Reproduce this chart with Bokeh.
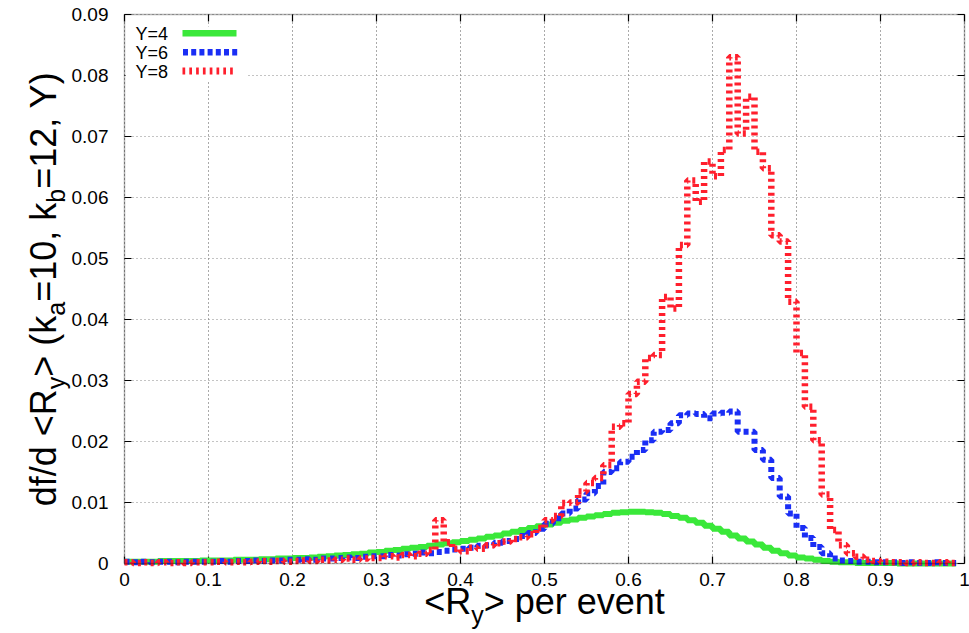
import math
import numpy as np
from bokeh.plotting import figure
from bokeh.models import Range1d, FixedTicker, Label, BoxAnnotation, Grid
from bokeh.core.properties import value
from bokeh.embed import file_html
from bokeh.resources import INLINE

# ---------------- data (histograms, bin width 0.01, left edges 0.00 .. 0.99) -------------
bin_left = np.round(np.arange(100) * 0.01, 2)

y4 = [0.0003, 0.0003, 0.0003, 0.0003, 0.0004, 0.0004, 0.0004, 0.0004, 0.0004, 0.0005,
      0.0005, 0.0005, 0.0005, 0.0006, 0.0006, 0.0006, 0.0007, 0.0007, 0.0008, 0.0008,
      0.0009, 0.0009, 0.0010, 0.0011, 0.0012, 0.0013, 0.0014, 0.0015, 0.0016, 0.0018,
      0.0019, 0.0021, 0.0022, 0.0024, 0.0026, 0.0027, 0.0029, 0.0031, 0.0033, 0.0035,
      0.0037, 0.0039, 0.0041, 0.0044, 0.0046, 0.0049, 0.0052, 0.0055, 0.0058, 0.0061,
      0.0064, 0.0067, 0.0070, 0.0072, 0.0075, 0.0077, 0.0079, 0.0081, 0.0083, 0.0084,
      0.0085, 0.0085, 0.0084, 0.0083, 0.0081, 0.0078, 0.0075, 0.0071, 0.0067, 0.0062,
      0.0057, 0.0052, 0.0046, 0.0041, 0.0036, 0.0031, 0.0026, 0.0021, 0.0017, 0.0013,
      0.0010, 0.0008, 0.0006, 0.0004, 0.0003, 0.0002, 0.0002, 0.0001, 0.0001, 0.0001,
      0.0001, 0.0001, 0.0000, 0.0000, 0.0000, 0.0000, 0.0000, 0.0000, 0.0000, 0.0000]

y6 = [0.0003, 0.0002, 0.0003, 0.0002, 0.0003, 0.0003, 0.0002, 0.0003, 0.0003, 0.0003,
      0.0003, 0.0004, 0.0003, 0.0004, 0.0004, 0.0005, 0.0004, 0.0005, 0.0005, 0.0006,
      0.0006, 0.0007, 0.0006, 0.0008, 0.0008, 0.0009, 0.0010, 0.0009, 0.0011, 0.0012,
      0.0012, 0.0014, 0.0013, 0.0015, 0.0016, 0.0018, 0.0017, 0.0019, 0.0021, 0.0023,
      0.0024, 0.0026, 0.0029, 0.0030, 0.0034, 0.0037, 0.0040, 0.0045, 0.0050, 0.0057,
      0.0065, 0.0074, 0.0082, 0.0090, 0.0105, 0.0115, 0.0127, 0.0150, 0.0156, 0.0167,
      0.0175, 0.0186, 0.0202, 0.0216, 0.0219, 0.0230, 0.0243, 0.0246, 0.0245, 0.0238,
      0.0246, 0.0247, 0.0249, 0.0216, 0.0216, 0.0186, 0.0170, 0.0140, 0.0110, 0.0082,
      0.0058, 0.0042, 0.0027, 0.0017, 0.0008, 0.0005, 0.0004, 0.0003, 0.0003, 0.0002,
      0.0002, 0.0002, 0.0001, 0.0002, 0.0001, 0.0001, 0.0002, 0.0001, 0.0001, 0.0001]

y8 = [0.0002, 0.0001, 0.0002, 0.0001, 0.0002, 0.0001, 0.0002, 0.0001, 0.0002, 0.0002,
      0.0002, 0.0003, 0.0002, 0.0003, 0.0002, 0.0003, 0.0004, 0.0003, 0.0004, 0.0003,
      0.0004, 0.0005, 0.0004, 0.0006, 0.0005, 0.0006, 0.0008, 0.0006, 0.0008, 0.0009,
      0.0009, 0.0012, 0.0010, 0.0014, 0.0012, 0.0016, 0.0022, 0.0071, 0.0035, 0.0024,
      0.0020, 0.0026, 0.0024, 0.0030, 0.0033, 0.0036, 0.0040, 0.0043, 0.0048, 0.0058,
      0.0071, 0.0078, 0.0099, 0.0100, 0.0118, 0.0132, 0.0140, 0.0161, 0.0224, 0.0230,
      0.0278, 0.0298, 0.0337, 0.0342, 0.0437, 0.0418, 0.0522, 0.0628, 0.0593, 0.0659,
      0.0635, 0.0678, 0.0830, 0.0705, 0.0765, 0.0675, 0.0648, 0.0538, 0.0528, 0.0429,
      0.0345, 0.0257, 0.0202, 0.0113, 0.0055, 0.0030, 0.0017, 0.0011, 0.0006, 0.0004,
      0.0003, 0.0002, 0.0002, 0.0001, 0.0002, 0.0001, 0.0001, 0.0002, 0.0001, 0.0001]

series_names = ["Y=4", "Y=6", "Y=8"]

x_ticks = [0.0, 0.1, 0.2, 0.3, 0.4, 0.5, 0.6, 0.7, 0.8, 0.9, 1.0]
x_tick_labels = ["0", "0.1", "0.2", "0.3", "0.4", "0.5", "0.6", "0.7", "0.8", "0.9", "1"]
y_ticks = [0.0, 0.01, 0.02, 0.03, 0.04, 0.05, 0.06, 0.07, 0.08, 0.09]
y_tick_labels = ["0", "0.01", "0.02", "0.03", "0.04", "0.05", "0.06", "0.07", "0.08", "0.09"]

# ---------------- styling / layout constants ----------------
FONT = "Liberation Sans"
GREEN = "#3ae83a"
BLUE = "#1a2ef5"
RED = "#ff1f2d"

W, H = 969, 633
FL, FT, FR, FBOT = 124, 14, 964, 563     # plot box edges in page pixels
BOX_W = FR - FL                          # 840
BOX_H = FBOT - FT                        # 549
XMIN, XMAX, YMIN, YMAX = 0.0, 1.0, 0.0, 0.09
TICK = 7
sx = (XMAX - XMIN) / BOX_W               # data per pixel
sy = (YMAX - YMIN) / BOX_H

# the figure's frame covers the whole page so that titles are never clipped;
# the data box sits inside it where the reference has it
p = figure(width=W, height=H, title=None,
           x_range=Range1d(XMIN - FL * sx, XMAX + (W - FR) * sx),
           y_range=Range1d(YMIN - (H - FBOT) * sy, YMAX + FT * sy),
           x_axis_type=None, y_axis_type=None,
           output_backend="svg", toolbar_location=None,
           min_border=0, min_border_left=0, min_border_right=0,
           min_border_top=0, min_border_bottom=0,
           background_fill_color="white", border_fill_color="white")
p.outline_line_color = None

xt = FixedTicker(ticks=x_ticks)
yt = FixedTicker(ticks=y_ticks)

# dotted grid inside the box
p.add_layout(Grid(dimension=0, ticker=xt, cross_bounds=(YMIN, YMAX),
                  grid_line_color="#555555", grid_line_dash="1 3", grid_line_width=1))
p.add_layout(Grid(dimension=1, ticker=yt, cross_bounds=(XMIN, XMAX),
                  grid_line_color="#888888", grid_line_dash="1 3", grid_line_width=1))

# inward ticks on all four edges (short bounded grid lines)
dy, dx = TICK * sy, TICK * sx
for dim, tk, cb in ((0, xt, (YMIN, YMIN + dy)), (0, xt, (YMAX - dy, YMAX)),
                    (1, yt, (XMIN, XMIN + dx)), (1, yt, (XMAX - dx, XMAX))):
    p.add_layout(Grid(dimension=dim, ticker=tk, cross_bounds=cb,
                      grid_line_color="black", grid_line_width=1.2))


def scr(l, r, top, bot, **kw):
    """BoxAnnotation from page-pixel edges (frame == page)."""
    return BoxAnnotation(left=l, right=r, top=H - top, bottom=H - bot,
                         left_units="screen", right_units="screen",
                         bottom_units="screen", top_units="screen", **kw)


# white area behind the key (hides grid lines)
p.add_layout(scr(FL + 1, 247, 26, 80, fill_color="white", fill_alpha=1, line_color=None,
                 level="underlay"))

# ---------------- histograms ----------------
p.step(bin_left, y4, mode="after", line_color=GREEN, line_width=6)
p.step(bin_left, y6, mode="after", line_color=BLUE, line_width=6, line_dash="5 4")
p.step(bin_left, y8, mode="after", line_color=RED, line_width=6.5, line_dash="3 4")

# plot border on top of the curves
p.add_layout(BoxAnnotation(left=XMIN, right=XMAX, bottom=YMIN, top=YMAX,
                           fill_alpha=0, line_color="black", line_width=1.5))

# ---------------- tick labels ----------------
p.text(x=[XMIN] * len(y_ticks), y=y_ticks, text=y_tick_labels, x_offset=-16,
       text_font=value(FONT), text_font_size="19px", text_color="black",
       text_align="right", text_baseline="middle")
p.text(x=x_ticks, y=[YMIN] * len(x_ticks), text=x_tick_labels, y_offset=16,
       text_font=value(FONT), text_font_size="19px", text_color="black",
       text_align="center", text_baseline="middle")

# ---------------- key (text left, line sample right, as in gnuplot) ----------------
p.add_layout(scr(182, 236, 29.5, 36, fill_color=GREEN, fill_alpha=1, line_color=None))
for i in range(7):
    x0 = 182.5 + i * 8.2
    p.add_layout(scr(x0, x0 + 5, 48.5, 55, fill_color=BLUE, fill_alpha=1, line_color=None))
for i in range(8):
    x0 = 182 + i * 6.8
    p.add_layout(scr(x0, x0 + 2.7, 67, 74, fill_color=RED, fill_alpha=1, line_color=None))

for name, cy in zip(series_names, (33, 52, 71)):
    p.add_layout(Label(x=135, y=H - cy, x_units="screen", y_units="screen", text=name,
                       text_font=FONT, text_font_size="18px", text_color="black",
                       text_baseline="middle", text_align="left"))

# ---------------- axis titles with subscripts ----------------
AW = {'d': .556, 'f': .278, '/': .278, ' ': .278, '<': .584, 'R': .722, '>': .584,
      '(': .333, 'k': .5, '=': .584, '1': .556, '0': .556, ',': .278, '2': .556,
      'Y': .667, ')': .333, 'p': .556, 'e': .556, 'r': .333, 'v': .5, 'n': .556,
      't': .278, 'y': .5, 'a': .556, 'b': .556}


def tw(s, size):
    return sum(AW[c] for c in s) * size


S_BIG, S_SUB = 36, 25

# x title: "<R_y> per event"
xpieces = [("<R", False), ("y", True), ("> per event", False)]
total = sum(tw(t, S_SUB if s else S_BIG) for t, s in xpieces)
cx = FL + BOX_W / 2 - total / 2
for t, s in xpieces:
    size = S_SUB if s else S_BIG
    mid = 614 if s else 601          # page y of text middle
    p.add_layout(Label(x=cx, y=H - mid, x_units="screen", y_units="screen", text=t,
                       text_font=FONT, text_font_size=f"{size}px", text_color="black",
                       text_baseline="middle", text_align="left"))
    cx += tw(t, size)

# y title: "df/d <R_y> (k_a=10, k_b=12, Y)" rotated
ypieces = [("df/d <R", False), ("y", True), ("> (k", False), ("a", True),
           ("=10, k", False), ("b", True), ("=12, Y)", False)]
total = sum(tw(t, S_SUB if s else S_BIG) for t, s in ypieces)
cy = (H - (FT + BOX_H / 2)) - total / 2
for t, s in ypieces:
    size = S_SUB if s else S_BIG
    midx = 55 if s else 42.5
    p.add_layout(Label(x=midx, y=cy, x_units="screen", y_units="screen", text=t,
                       text_font=FONT, text_font_size=f"{size}px", text_color="black",
                       text_baseline="middle", text_align="left", angle=math.pi / 2))
    cy += tw(t, size)

open("out.html", "w").write(file_html(p, INLINE))
